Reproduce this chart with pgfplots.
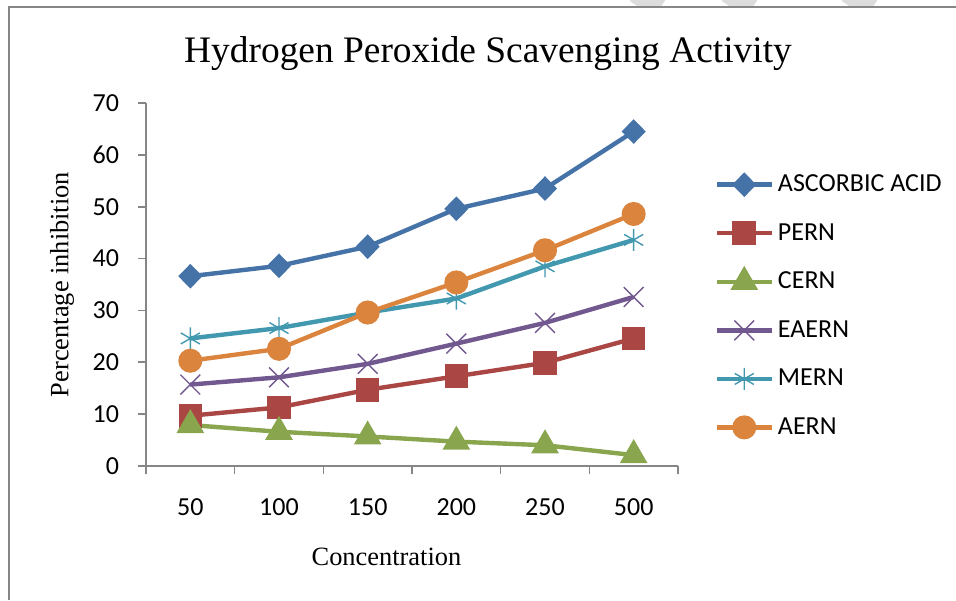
\documentclass[border=0pt]{standalone}
\usepackage{pgfplots}
\pgfplotsset{compat=1.18}
\usepackage{fontspec}
\setmainfont{Liberation Serif}
\newfontfamily\calib{Carlito}
\definecolor{cA}{HTML}{4572A7}
\definecolor{cB}{HTML}{AA4643}
\definecolor{cC}{HTML}{89A54E}
\definecolor{cD}{HTML}{71588F}
\definecolor{cE}{HTML}{4198AF}
\definecolor{cF}{HTML}{DB843D}
\definecolor{axgray}{HTML}{868686}
\definecolor{wm}{HTML}{DCDCDC}
\begin{document}
\begin{tikzpicture}[x=1pt,y=1pt]
\useasboundingbox (0,0) rectangle (478,300);
\begin{scope}
\clip (0,296.5) rectangle (478,300);
\draw[wm, line width=11pt] (318,304) -- (330,296);
\draw[wm, line width=11pt] (364,304) -- (376,296);
\draw[wm, line width=11pt] (424,304) -- (436,296);
\end{scope}
\draw[axgray, line width=0.9pt] (4.5,0) -- (4.5,296.5) -- (478,296.5);
\node[font=\fontsize{18.7}{22}\selectfont, anchor=base] at (244,268.5) {Hydrogen Peroxide Scavenging Activity};
\begin{axis}[
  at={(73pt,67pt)}, anchor=south west,
  scale only axis, width=266pt, height=181.5pt,
  xmin=-0.5, xmax=5.5, ymin=0, ymax=70,
  axis x line*=bottom, axis y line*=left,
  axis line style={draw=axgray, line width=0.8pt},
  xtick={0,...,5}, xticklabels={50,100,150,200,250,500},
  minor xtick={-0.5,0.5,...,5.5},
  ytick={0,10,...,70},
  tick align=outside, major tick length=4pt, minor tick length=4pt,
  tick style={axgray, line width=0.8pt},
  major x tick style={draw=none},
  /pgf/number format/assume math mode=true,
  every tick label/.append style={font=\calib\fontsize{13}{15}\selectfont},
  xticklabel style={yshift=-9pt},
  yticklabel style={xshift=-6pt},
  xlabel={Concentration}, ylabel={Percentage inhibition},
  xlabel style={font=\fontsize{13.2}{15}\selectfont, at={(axis description cs:0.452,-0.2507)}, anchor=center},
  ylabel style={font=\fontsize{13.2}{15}\selectfont, at={(axis description cs:-0.158,0.5)}, anchor=center},
  every axis plot/.append style={line width=2.2pt},
  legend style={at={(axis description cs:1.068,0.4408)}, anchor=west, draw=none, fill=none,
    font=\calib\fontsize{13}{15}\selectfont, row sep=10.4pt, inner sep=0pt},
  legend cell align=left,
  legend image code/.code={\draw[mark repeat=2,mark phase=2,#1] plot coordinates {(0pt,0pt) (13.75pt,0pt) (27.5pt,0pt)};},
  clip=false,
]
\addplot[cA, mark=diamond*, mark size=4.6pt, mark options={xscale=1.3}] coordinates {(0,36.6) (1,38.6) (2,42.3) (3,49.6) (4,53.5) (5,64.5)};
\addlegendentry{ASCORBIC ACID}
\addplot[cB, mark=square*, mark size=4.8pt] coordinates {(0,9.7) (1,11.3) (2,14.7) (3,17.3) (4,19.9) (5,24.6)};
\addlegendentry{PERN}
\addplot[cC, mark=triangle*, mark size=5.8pt] coordinates {(0,7.9) (1,6.6) (2,5.7) (3,4.7) (4,4.0) (5,2.1)};
\addlegendentry{CERN}
\addplot[cD, mark=x, mark size=7pt, mark options={line width=0.7pt}] coordinates {(0,15.7) (1,17.1) (2,19.7) (3,23.6) (4,27.6) (5,32.6)};
\addlegendentry{EAERN}
\addplot[cE, mark=asterisk, mark size=5.5pt, mark options={line width=0.7pt}] coordinates {(0,24.6) (1,26.6) (2,29.6) (3,32.3) (4,38.5) (5,43.6)};
\addlegendentry{MERN}
\addplot[cF, mark=*, mark size=4.9pt] coordinates {(0,20.3) (1,22.6) (2,29.6) (3,35.4) (4,41.6) (5,48.6)};
\addlegendentry{AERN}
\end{axis}
\end{tikzpicture}
\end{document}
